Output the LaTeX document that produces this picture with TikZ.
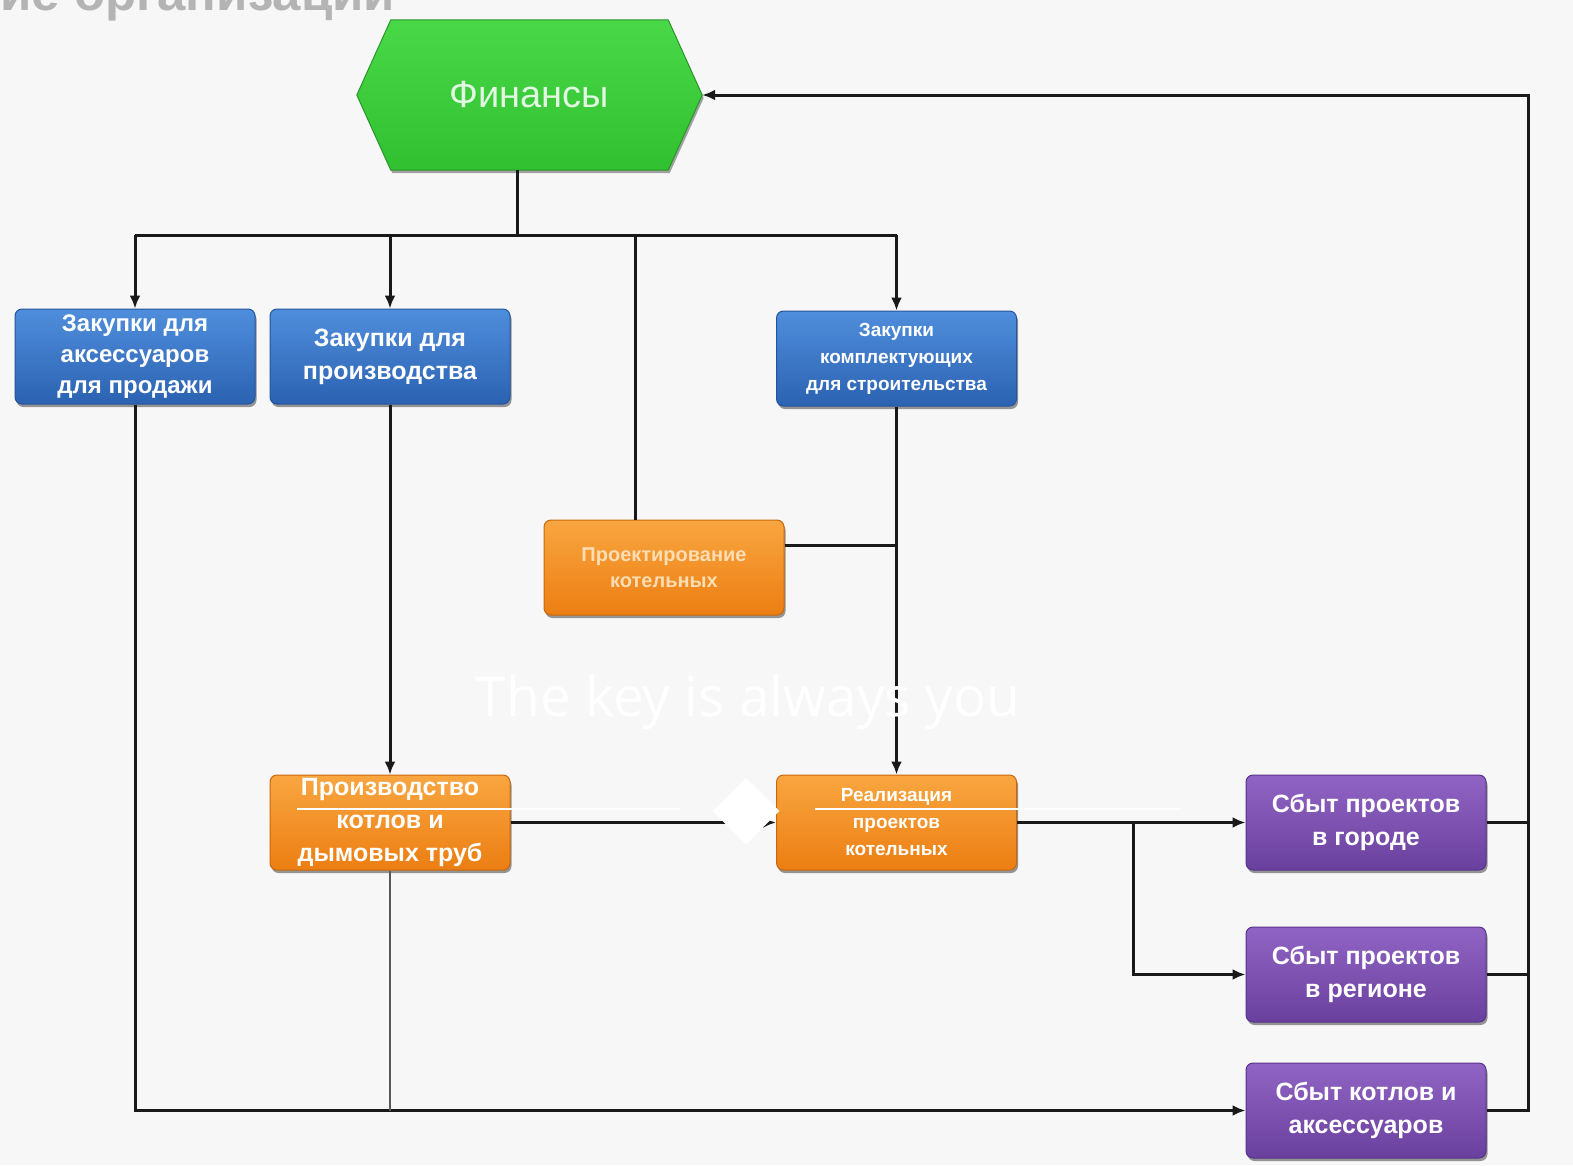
\documentclass[tikz,border=0pt]{standalone}
\usepackage{fontspec}
\setmainfont{Liberation Sans}
\newfontfamily\keyfont{Open Sans}
\usetikzlibrary{arrows.meta,shapes.geometric,shadows,backgrounds}
\definecolor{bg}{HTML}{F7F7F7}
\definecolor{greenT}{HTML}{48D848}
\definecolor{greenB}{HTML}{30C030}
\definecolor{greenD}{HTML}{2A962A}
\definecolor{blueT}{HTML}{4F8EDC}
\definecolor{blueB}{HTML}{2B62B2}
\definecolor{blueD}{HTML}{24559C}
\definecolor{orT}{HTML}{F9A640}
\definecolor{orB}{HTML}{EC7E12}
\definecolor{orD}{HTML}{C8680C}
\definecolor{puT}{HTML}{9064C4}
\definecolor{puB}{HTML}{6A409E}
\definecolor{puD}{HTML}{56338A}
\definecolor{finText}{HTML}{E2F7E2}
\definecolor{projText}{HTML}{FDDDB4}
\definecolor{titleGray}{HTML}{B4B4B4}
\begin{document}
\begin{tikzpicture}[x=1pt,y=-1pt,
  box/.style={rounded corners=7pt, minimum width=240pt, minimum height=95pt,
    inner sep=2pt, align=center, line width=1pt,
    drop shadow={shadow xshift=1.5pt, shadow yshift=-3pt, opacity=0.4, fill=black}},
  bluebox/.style={box, draw=blueD, top color=blueT, bottom color=blueB, text=white},
  orbox/.style={box, draw=orD, top color=orT, bottom color=orB, text=white},
  pubox/.style={box, draw=puD, top color=puT, bottom color=puB, text=white},
  big/.style={font=\bfseries\fontsize{25}{33}\selectfont},
  small/.style={font=\bfseries\fontsize{19}{27}\selectfont},
  line/.style={draw=black!90, line width=3pt},
  arr/.style={line, -{Latex[length=13pt,width=11pt]}},
  thinline/.style={draw=black!65, line width=1.6pt},
]
\useasboundingbox (0,0) rectangle (1573,1165);
\begin{scope}[on background layer]
  \fill[bg] (0,0) rectangle (1573,1165);
\end{scope}

% title (cropped at top, as in the reference)
\node[anchor=base west, inner sep=0, text=titleGray,
  font=\bfseries\fontsize{51}{51}\selectfont] (title) at (0,10) {ие организации};

% Finance hexagon
\node[minimum width=345pt, minimum height=150pt, inner sep=0] (fin) at (529.5,95) {};
\begin{scope}[on background layer]
  \path[draw=greenD, line width=1pt, top color=greenT, bottom color=greenB,
    drop shadow={shadow xshift=1.5pt, shadow yshift=-3pt, opacity=0.35, fill=black}]
    (fin.west) -- ([xshift=34pt]fin.north west) -- ([xshift=-34pt]fin.north east)
    -- (fin.east) -- ([xshift=-34pt]fin.south east) -- ([xshift=34pt]fin.south west) -- cycle;
\end{scope}
\node[text=finText, font=\fontsize{38}{40}\selectfont] (fintext) at (fin.center) {Финансы};

% blue boxes
\node[bluebox, font=\bfseries\fontsize{24}{31}\selectfont] (a1) at (135,356.5) {Закупки для\\аксессуаров\\для продажи};
\node[bluebox, big] (a2) at (390,356.5) {Закупки для\\производства};
\node[bluebox, small] (a3) at (896.5,358.5) {Закупки\\комплектующих\\для строительства};

% orange boxes
\node[orbox, text=projText, font=\bfseries\fontsize{20}{26}\selectfont] (proj) at (664,567.5) {Проектирование\\котельных};
\node[orbox, big] (prod) at (390,822.5) {Производство\\котлов и\\дымовых труб};
\node[orbox, small] (real) at (896.5,822.5) {Реализация\\проектов\\котельных};

% purple boxes
\node[pubox, big] (s1) at (1366,822.5) {Сбыт проектов\\в городе};
\node[pubox, big] (s2) at (1366,974.5) {Сбыт проектов\\в регионе};
\node[pubox, big] (s3) at (1366,1110.5) {Сбыт котлов и\\аксессуаров};

% junction coordinates
\coordinate (bus) at (517,235);
\coordinate (pj) at (635,235);
\coordinate (br) at (1133,0);
\coordinate (rr) at (1528,0);

% connectors
\draw[line] (bus |- fin.south) -- (bus);
\draw[line] (a1.north |- bus) -- (a3.north |- bus);
\draw[arr] (a1.north |- bus) -- (a1.north);
\draw[arr] (a2.north |- bus) -- (a2.north);
\draw[arr] (a3.north |- bus) -- (a3.north);
\draw[line] (pj) -- (pj |- proj.north);
\draw[line] ([yshift=22pt]proj.east) -- ([yshift=22pt]proj.east -| a3.south);
\draw[arr] (a3.south) -- (real.north);
\draw[arr] (a2.south) -- (prod.north);
\draw[arr] (prod.east) -- (real.west);
\draw[arr] (real.east) -- (s1.west);
\draw[arr] (br |- real.east) |- (s2.west);
\draw[arr] (a1.south) |- (s3.west);
\draw[thinline] (prod.south) -- (prod.south |- s3.west);
\draw[line] (s1.east) -- (s1.east -| rr);
\draw[line] (s2.east) -- (s2.east -| rr);
\draw[arr] (s3.east) -| (rr |- fin.east) -- (fin.east);

% overlay
\draw[white, line width=2pt] (297,809) -- (680,809);
\draw[white, line width=2pt] (815,809) -- (1180,809);
\node[diamond, fill=white, minimum width=67pt, minimum height=67pt, inner sep=0] (dia) at (746,811) {};
\node[text=white, font=\keyfont\fontsize{55}{55}\selectfont] (key) at (748,702) {The key is always you};
\end{tikzpicture}
\end{document}
